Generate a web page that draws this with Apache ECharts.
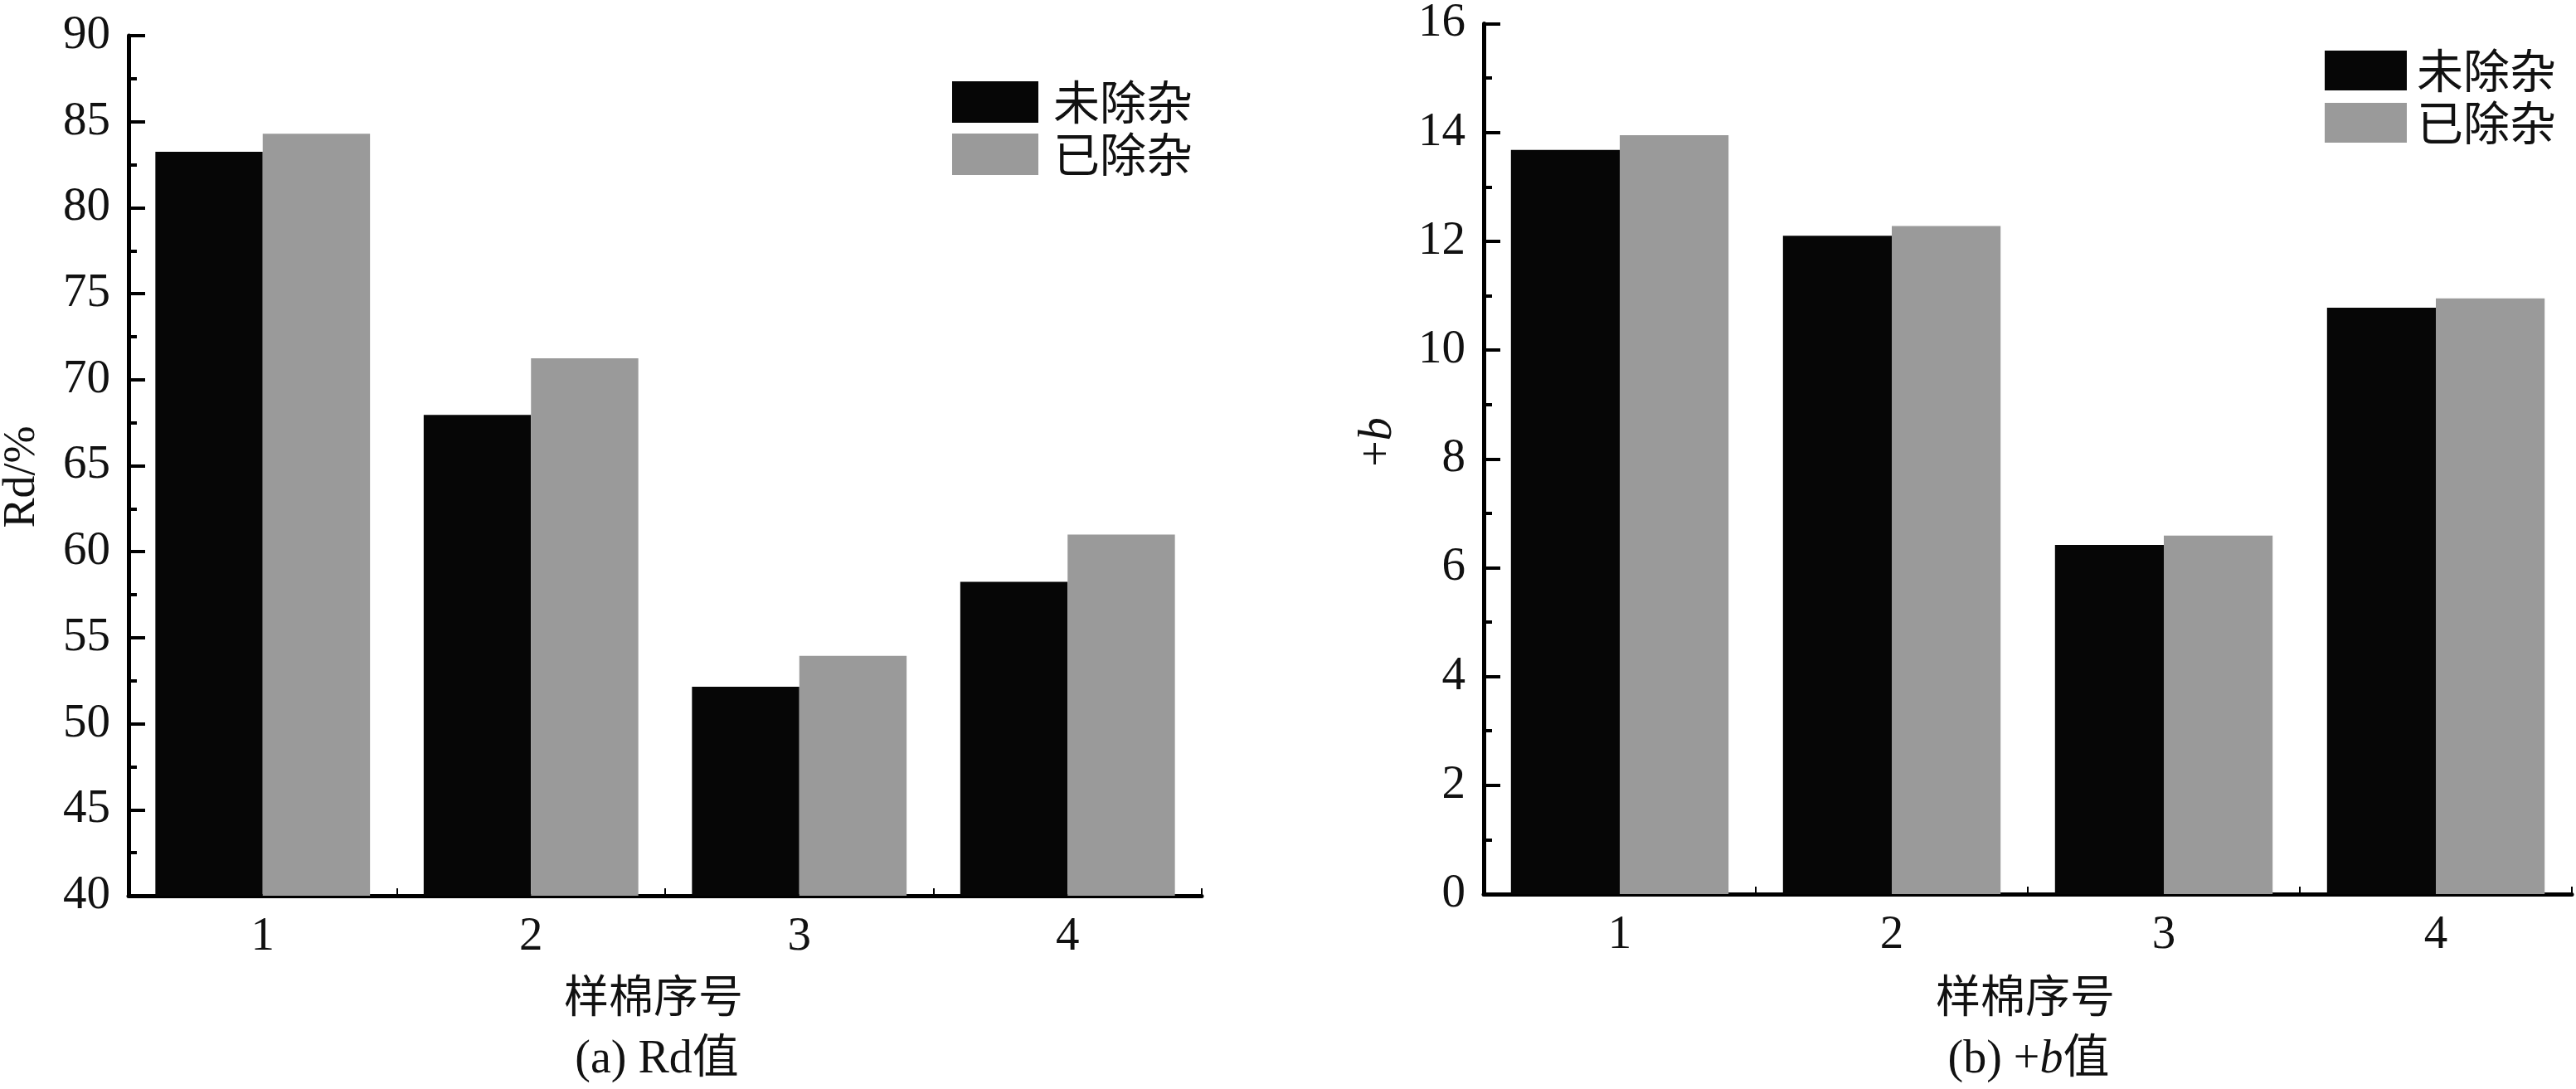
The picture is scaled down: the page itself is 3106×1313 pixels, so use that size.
<!DOCTYPE html>
<html>
<head>
<meta charset="utf-8">
<script src="https://cdn.jsdelivr.net/npm/echarts@6/dist/echarts.min.js"></script>
<style>
html,body{margin:0;padding:0;background:#fff;}
#chart{width:3106px;height:1313px;}
</style>
</head>
<body>
<div id="chart"></div>
<script>
// ---- data ----
const categories = ['1', '2', '3', '4'];
const seriesNames = ['未除杂', '已除杂'];
const rdRaw = [83.25, 67.95, 52.15, 58.25];      // 未除杂 Rd/%
const rdClean = [84.3, 71.25, 53.95, 61.0];      // 已除杂 Rd/%
const bRaw = [13.68, 12.1, 6.42, 10.78];         // 未除杂 +b
const bClean = [13.95, 12.28, 6.59, 10.95];      // 已除杂 +b
const rdTicks = {min: 40, max: 90, interval: 5};
const bTicks = {min: 0, max: 16, interval: 2};

const SERIF = "'Liberation Serif', 'Times New Roman', serif";
const CJK = "'Noto Sans CJK SC', sans-serif";
const MIX = "'Liberation Serif', 'Noto Sans CJK SC', serif";
const BLACK = '#060606';
const GRAY = '#9a9a9a';

const chart = echarts.init(document.getElementById('chart'), null, {renderer: 'canvas'});

function xAxisCfg(gridIndex) {
  return {
    type: 'category', gridIndex, data: categories, boundaryGap: true,
    axisLine: {lineStyle: {color: '#000', width: 5}},
    axisTick: {show: true, inside: true, length: 9, lineStyle: {color: '#000', width: 2}},
    axisLabel: {color: '#111', fontFamily: SERIF, fontSize: 57, margin: 22},
    splitLine: {show: false}
  };
}
function yAxisCfg(gridIndex, t) {
  return {
    type: 'value', gridIndex, min: t.min, max: t.max, interval: t.interval,
    axisLine: {show: true, lineStyle: {color: '#000', width: 5}},
    axisTick: {show: true, inside: true, length: 20, lineStyle: {color: '#000', width: 4}},
    minorTick: {show: true, splitNumber: 2, length: 10, lineStyle: {color: '#000', width: 4}},
    axisLabel: {color: '#111', fontFamily: SERIF, fontSize: 57, margin: 22},
    splitLine: {show: false},
    minorSplitLine: {show: false}
  };
}
function barSeries(name, data, color, idx) {
  return {
    type: 'bar', name, data, xAxisIndex: idx, yAxisIndex: idx,
    barWidth: '40%', barGap: '0%',
    itemStyle: {color},
    emphasis: {disabled: true},
    animation: false
  };
}
function legendCfg(left, top, w, h, pad) {
  return {
    orient: 'vertical', left, top, itemWidth: w, itemHeight: h, itemGap: 7,
    icon: 'rect', selectedMode: false, data: seriesNames,
    textStyle: {fontFamily: CJK, fontSize: 56, color: '#111', lineHeight: h, padding: [0, 0, 0, pad]}
  };
}

const option = {
  backgroundColor: '#fff',
  animation: false,
  grid: [
    {left: 155, top: 43, width: 1294, bottom: 233, containLabel: false},
    {left: 1789, top: 24, right: 5, bottom: 235, containLabel: false}
  ],
  xAxis: [xAxisCfg(0), xAxisCfg(1)],
  yAxis: [yAxisCfg(0, rdTicks), yAxisCfg(1, bTicks)],
  legend: [legendCfg(1143, 90, 104, 50, 13), legendCfg(2798, 52, 99, 48, 7)],
  series: [
    barSeries(seriesNames[0], rdRaw, BLACK, 0),
    barSeries(seriesNames[1], rdClean, GRAY, 0),
    barSeries(seriesNames[0], bRaw, BLACK, 1),
    barSeries(seriesNames[1], bClean, GRAY, 1)
  ],
  graphic: [
    {type: 'text', x: 27, y: 575, rotation: Math.PI / 2,
     style: {text: 'Rd/%', font: "54px " + SERIF, fill: '#111', textAlign: 'center', textVerticalAlign: 'middle'}},
    {type: 'text', x: 1662, y: 533, rotation: Math.PI / 2,
     style: {text: '+{i|b}', font: "56px " + SERIF, fill: '#111', textAlign: 'center', textVerticalAlign: 'middle',
             rich: {i: {fontStyle: 'italic', fontFamily: SERIF, fontSize: 56, fill: '#111'}}}},
    {type: 'text', x: 788, y: 1200,
     style: {text: '样棉序号', font: "54px " + CJK, fill: '#111', textAlign: 'center', textVerticalAlign: 'middle'}},
    {type: 'text', x: 2442, y: 1200,
     style: {text: '样棉序号', font: "54px " + CJK, fill: '#111', textAlign: 'center', textVerticalAlign: 'middle'}},
    {type: 'text', x: 792, y: 1278,
     style: {text: '(a) Rd值', font: "56px " + MIX, fill: '#111', textAlign: 'center', textVerticalAlign: 'middle'}},
    {type: 'text', x: 2446, y: 1278,
     style: {text: '(b) +{i|b}值', font: "56px " + MIX, fill: '#111', textAlign: 'center', textVerticalAlign: 'middle',
             rich: {i: {fontStyle: 'italic', fontFamily: SERIF, fontSize: 56, fill: '#111'}}}}
  ]
};
chart.setOption(option);
</script>
</body>
</html>
